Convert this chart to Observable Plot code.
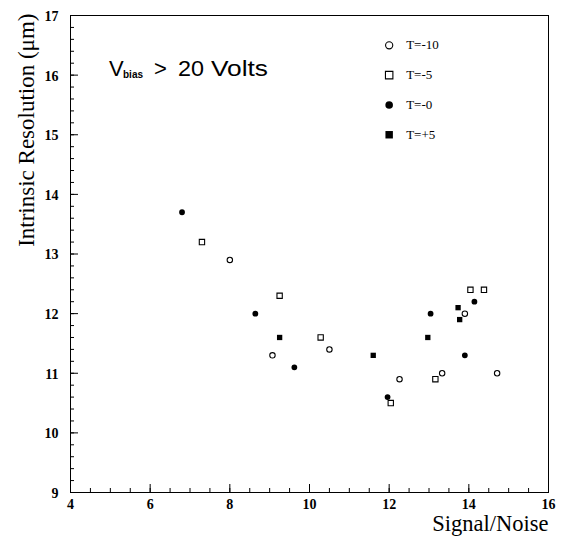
<!DOCTYPE html>
<html><head><meta charset="utf-8">
<script src="https://cdn.jsdelivr.net/npm/d3@7"></script>
<script src="https://cdn.jsdelivr.net/npm/@observablehq/plot@0.6"></script>
<style>body{margin:0;background:#fff}</style>
</head><body><div id="chart"></div>
<script>
// ---- data ----
const seriesNames = ["T=-10", "T=-5", "T=-0", "T=+5"];
const tm10X = [8.0, 9.07, 10.5, 12.26, 13.33, 13.9, 14.71];
const tm10Y = [12.9, 11.3, 11.4, 10.9, 11.0, 12.0, 11.0];
const tm5X = [7.3, 9.25, 10.28, 12.04, 13.16, 14.04, 14.38];
const tm5Y = [13.2, 12.3, 11.6, 10.5, 10.9, 12.4, 12.4];
const t0X = [6.8, 8.64, 9.62, 11.96, 13.04, 13.9, 14.14];
const t0Y = [13.7, 12.0, 11.1, 10.6, 12.0, 11.3, 12.2];
const tp5X = [9.25, 11.6, 12.97, 13.73, 13.77];
const tp5Y = [11.6, 11.3, 11.6, 12.1, 11.9];
const xTickLabels = [4, 6, 8, 10, 12, 14, 16];
const yTickLabels = [9, 10, 11, 12, 13, 14, 15, 16, 17];
const xLabel = "Signal/Noise";
const yLabel = "Intrinsic Resolution (μm)";

// ---- layout ----
const W = 564, H = 536, mL = 70, mR = 16, mT = 15, mB = 44;
const iw = W - mL - mR, ih = H - mT - mB;
const serif = "'Liberation Serif', 'Times New Roman', serif";
const sans = "'Liberation Sans', Arial, sans-serif";

const seriesX = [tm10X, tm5X, t0X, tp5X];
const seriesY = [tm10Y, tm5Y, t0Y, tp5Y];
const styles = [
  {symbol: "circle", fill: "white", stroke: "black", r: 2.7, rl: 3.6},
  {symbol: "square", fill: "white", stroke: "black", r: 3.0, rl: 4.2},
  {symbol: "circle", fill: "black", stroke: "none", r: 2.9, rl: 3.8},
  {symbol: "square", fill: "black", stroke: "none", r: 3.0, rl: 4.2}
];
const rows = seriesNames.map((name, i) => seriesX[i].map((x, j) => ({name, x, y: seriesY[i][j]})));
const legendRows = seriesNames.map((name, i) => ({name, x: 12, y: 16.5 - 0.5 * i}));

const xMinor = d3.range(4, 16.001, 0.5);
const yMinor = d3.range(9, 17.001, 0.2).map(v => +v.toFixed(1));

const tickFont = {fontWeight: "bold", fontSize: 14, fontFamily: serif, fill: "black"};
const marks = [
  Plot.frame({stroke: "black", strokeWidth: 1}),
  Plot.tickX(xMinor, {x: d => d, insetTop: ih - 4, stroke: "black"}),
  Plot.tickX(xTickLabels, {x: d => d, insetTop: ih - 8, stroke: "black"}),
  Plot.tickY(yMinor, {y: d => d, insetRight: iw - 4, stroke: "black"}),
  Plot.tickY(yTickLabels, {y: d => d, insetRight: iw - 8, stroke: "black"}),
  Plot.text(xTickLabels, {x: d => d, text: d => String(d), frameAnchor: "bottom", lineAnchor: "middle", dy: 12, ...tickFont}),
  Plot.text(yTickLabels, {y: d => d, text: d => String(d), frameAnchor: "left", textAnchor: "end", lineAnchor: "middle", dx: -12, dy: 1, ...tickFont}),
  Plot.text([xLabel], {frameAnchor: "bottom-right", textAnchor: "end", lineAnchor: "middle", dy: 31, fontSize: 22.5, fontFamily: serif, fill: "black"}),
  Plot.text([yLabel], {frameAnchor: "top-left", textAnchor: "end", lineAnchor: "middle", rotate: -90, dx: -44, dy: -2, fontSize: 23, fontFamily: serif, fill: "black"})
];
rows.forEach((data, i) => {
  const s = styles[i];
  marks.push(Plot.dot(data, {x: "x", y: "y", symbol: () => s.symbol, r: s.r, fill: s.fill, stroke: s.stroke, strokeWidth: 1.1}));
  marks.push(Plot.dot([legendRows[i]], {x: "x", y: "y", symbol: () => s.symbol, r: s.rl, fill: s.fill, stroke: s.stroke, strokeWidth: 1.1}));
});
marks.push(Plot.text(legendRows, {x: "x", y: "y", text: "name", dx: 17, textAnchor: "start", fontSize: 13, fontFamily: serif, fill: "black"}));

const chart = Plot.plot({
  width: W, height: H,
  marginLeft: mL, marginRight: mR, marginTop: mT, marginBottom: mB,
  x: {domain: [4, 16], axis: null},
  y: {domain: [9, 17], axis: null},
  symbol: {type: "identity"},
  style: {background: "white", color: "black", overflow: "visible"},
  marks
});
document.getElementById("chart").appendChild(chart);

const svg = d3.select(chart);
// force numeric tick labels to bold serif via inline style
svg.selectAll("text").filter(function () { return /^\d+$/.test(this.textContent.trim()); })
  .style("font-weight", "700").style("font-family", serif)
  .style("font-size", "14px").style("fill", "black");

// annotation with subscript
const t = svg.append("text").attr("y", 76)
  .attr("text-anchor", "start")
  .attr("font-family", sans).attr("fill", "black");
t.append("tspan").attr("x", 109).attr("font-size", 22).text("V");
t.append("tspan").attr("x", 123).attr("font-size", 10).attr("font-weight", "bold").attr("dy", 2).text("bias");
t.append("tspan").attr("x", 154).attr("font-size", 22).attr("dy", -2).text(">");
t.append("tspan").attr("x", 178).attr("font-size", 22).attr("textLength", 26).attr("lengthAdjust", "spacingAndGlyphs").text("20");
t.append("tspan").attr("x", 211).attr("font-size", 22).attr("textLength", 57).attr("lengthAdjust", "spacingAndGlyphs").text("Volts");
</script>
</body></html>
